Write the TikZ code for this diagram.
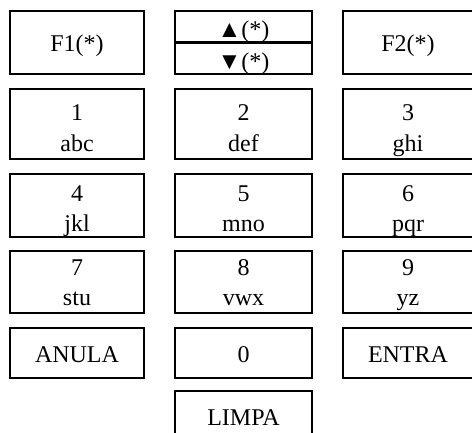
\documentclass[tikz,border=0pt]{standalone}
\usepackage{fontspec}
\setmainfont{Liberation Serif}
\begin{document}
\begin{tikzpicture}[x=1pt,y=-1pt,
  keybox/.style={draw=black, line width=2.2pt, rectangle, inner sep=0pt},
  lbl/.style={anchor=base, inner sep=0pt, font=\fontsize{24}{28}\selectfont}]
\useasboundingbox (0,0) rectangle (472,432);
% boxes
\node[keybox, minimum width=134pt, minimum height=63pt] (f1) at (77,42.5) {};
\node[keybox, minimum width=137pt, minimum height=63pt] (ud) at (243.5,42.5) {};
\node[keybox, minimum width=135pt, minimum height=63pt] (f2) at (410.5,42.5) {};
\draw[line width=2.2pt] (ud.west) -- (ud.east);

\node[keybox, minimum width=134pt, minimum height=70pt] (k1) at (77,124) {};
\node[keybox, minimum width=137pt, minimum height=70pt] (k2) at (243.5,124) {};
\node[keybox, minimum width=135pt, minimum height=70pt] (k3) at (410.5,124) {};

\node[keybox, minimum width=134pt, minimum height=63pt] (k4) at (77,205.5) {};
\node[keybox, minimum width=137pt, minimum height=63pt] (k5) at (243.5,205.5) {};
\node[keybox, minimum width=135pt, minimum height=63pt] (k6) at (410.5,205.5) {};

\node[keybox, minimum width=134pt, minimum height=62pt] (k7) at (77,282) {};
\node[keybox, minimum width=137pt, minimum height=62pt] (k8) at (243.5,282) {};
\node[keybox, minimum width=135pt, minimum height=62pt] (k9) at (410.5,282) {};

\node[keybox, minimum width=134pt, minimum height=50pt] (kan) at (77,353) {};
\node[keybox, minimum width=137pt, minimum height=50pt] (k0) at (243.5,353) {};
\node[keybox, minimum width=135pt, minimum height=50pt] (ken) at (410.5,353) {};

\node[keybox, minimum width=137pt, minimum height=54pt] (kli) at (243.5,418) {};

% labels
\node[lbl] (tf1) at (77,51) {F1(*)};
\node[lbl] (tup) at (243.5,37) {▲(*)};
\node[lbl] (tdn) at (243.5,69) {▼(*)};
\node[lbl] (tf2) at (408,51) {F2(*)};

\node[lbl] (t1) at (77,120) {1};
\node[lbl] (t1b) at (77,151) {abc};
\node[lbl] (t2) at (243.5,120) {2};
\node[lbl] (t2b) at (243.5,151) {def};
\node[lbl] (t3) at (408,120) {3};
\node[lbl] (t3b) at (408,151) {ghi};

\node[lbl] (t4) at (77,201) {4};
\node[lbl] (t4b) at (77,231) {jkl};
\node[lbl] (t5) at (243.5,201) {5};
\node[lbl] (t5b) at (243.5,231) {mno};
\node[lbl] (t6) at (408,201) {6};
\node[lbl] (t6b) at (408,231) {pqr};

\node[lbl] (t7) at (77,275) {7};
\node[lbl] (t7b) at (77,305) {stu};
\node[lbl] (t8) at (243.5,275) {8};
\node[lbl] (t8b) at (243.5,305) {vwx};
\node[lbl] (t9) at (408,275) {9};
\node[lbl] (t9b) at (408,305) {yz};

\node[lbl] (tan) at (77,362) {ANULA};
\node[lbl] (t0) at (243.5,362) {0};
\node[lbl] (ten) at (408,362) {ENTRA};
\node[lbl] (tli) at (243.5,425) {LIMPA};
\end{tikzpicture}
\end{document}
